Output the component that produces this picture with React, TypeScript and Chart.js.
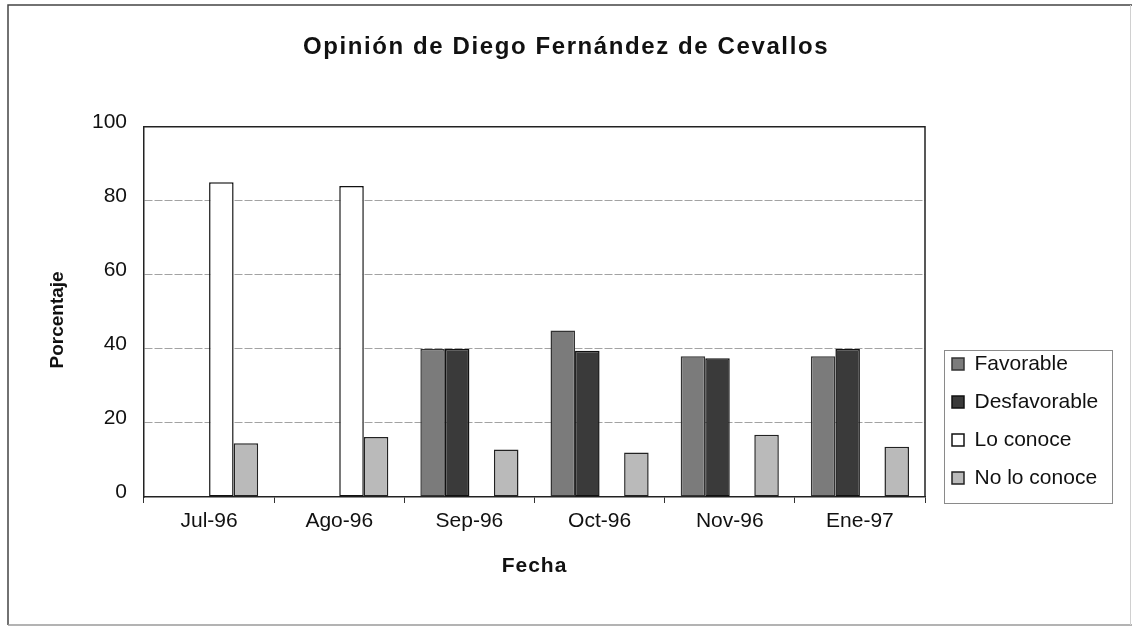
import React, { useEffect, useRef } from 'react';
import { Chart, registerables } from 'chart.js';

Chart.register(...registerables);

// ---- data ----
const categories = ['Jul-96', 'Ago-96', 'Sep-96', 'Oct-96', 'Nov-96', 'Ene-97'];
const favorable = [0, 0, 40, 45, 38, 38];
const desfavorable = [0, 0, 40, 39.5, 37.5, 40];
const loConoce = [85, 84, 0, 0, 0, 0];
const noLoConoce = [14.5, 16.2, 12.8, 12, 16.8, 13.6];
const seriesNames = ['Favorable', 'Desfavorable', 'Lo conoce', 'No lo conoce'];
const yTicks = [0, 20, 40, 60, 80, 100];
const chartTitle = 'Opinión de Diego Fernández de Cevallos';
const xTitle = 'Fecha';
const yTitle = 'Porcentaje';

const FONT = "'Liberation Sans', Arial, Helvetica, sans-serif";

const tweaks = {
  id: 'tweaks',
  beforeLayout(chart: any) {
    const lg = chart.legend;
    if (lg && !lg.__wrapped) {
      const orig = lg.fit.bind(lg);
      lg.fit = () => {
        orig();
        lg.width = 207;
      };
      lg.__wrapped = true;
    }
  },
  afterLayout(chart: any) {
    const lg = chart.legend;
    if (!lg) return;
    const left = chart.chartArea.right + 10;
    const top = 336.5;
    lg.left = left;
    lg.right = chart.width;
    lg.width = lg.right - lg.left;
    lg.top = top;
    lg.bottom = top + 175;
    lg.height = 175;
  },
  beforeDraw(chart: any) {
    const ctx = chart.ctx;
    ctx.save();
    ctx.fillStyle = '#ffffff';
    ctx.fillRect(0, 0, chart.width, chart.height);
    ctx.restore();
    const tb = chart.titleBlock;
    if (tb && !tb.__wrapped) {
      const o = tb.draw.bind(tb);
      tb.draw = (...a: any[]) => {
        ctx.save();
        ctx.letterSpacing = '1.6px';
        o(...a);
        ctx.restore();
      };
      tb.__wrapped = true;
    }
    const ys = chart.scales.y;
    if (ys && !ys.__wrapped) {
      const o2 = ys.drawTitle.bind(ys);
      ys.drawTitle = (...a: any[]) => {
        ctx.save();
        ctx.translate(0, 8);
        o2(...a);
        ctx.restore();
      };
      ys.__wrapped = true;
    }
    const xs = chart.scales.x;
    if (xs && !xs.__wrapped) {
      const o3 = xs.drawTitle.bind(xs);
      xs.drawTitle = (...a: any[]) => {
        ctx.save();
        ctx.letterSpacing = '1px';
        o3(...a);
        ctx.restore();
      };
      xs.__wrapped = true;
    }
  },
  afterDatasetsDraw(chart: any) {
    const { ctx, chartArea: ca } = chart;
    ctx.save();
    ctx.strokeStyle = '#222';
    ctx.lineWidth = 1.5;
    ctx.beginPath();
    ctx.moveTo(ca.left, ca.top);
    ctx.lineTo(ca.right, ca.top);
    ctx.lineTo(ca.right, ca.bottom);
    ctx.stroke();
    ctx.restore();
  },
  afterDraw(chart: any) {
    const ctx = chart.ctx;
    const lg = chart.legend;
    ctx.save();
    if (lg && lg.legendHitBoxes && lg.legendHitBoxes.length) {
      const hb = lg.legendHitBoxes;
      let l = Infinity, r = -Infinity;
      hb.forEach((h: any) => {
        l = Math.min(l, h.left);
        r = Math.max(r, h.left + h.width);
      });
      const t = hb[0].top - 3.5;
      const b = hb[hb.length - 1].top + hb[hb.length - 1].height + 14.5;
      ctx.strokeStyle = '#8a8a8a';
      ctx.lineWidth = 1;
      ctx.strokeRect(Math.round(l - 8) + 0.5, Math.round(t) + 0.5, Math.round(r + 14 - (l - 8)), Math.round(b - t));
    }
    // outer frame
    ctx.lineWidth = 1.5;
    ctx.strokeStyle = '#444';
    ctx.beginPath();
    ctx.moveTo(8, 625);
    ctx.lineTo(8, 5);
    ctx.lineTo(1132, 5);
    ctx.stroke();
    ctx.strokeStyle = '#9a9a9a';
    ctx.beginPath();
    ctx.moveTo(8, 625);
    ctx.lineTo(1132, 625);
    ctx.stroke();
    ctx.strokeStyle = '#d0d0d0';
    ctx.lineWidth = 1;
    ctx.beginPath();
    ctx.moveTo(1130.5, 5);
    ctx.lineTo(1130.5, 625);
    ctx.stroke();
    ctx.restore();
  },
};

export default function App() {
  const ref = useRef<HTMLCanvasElement | null>(null);

  useEffect(() => {
    if (!ref.current) return;
    const mk = (label: string, data: number[], bg: string, bc: string) => ({
      label,
      data,
      backgroundColor: bg,
      borderColor: bc,
      borderWidth: 1.5,
      borderSkipped: false,
      categoryPercentage: 0.754,
      barPercentage: 1,
    });
    const chart = new Chart(ref.current, {
      type: 'bar',
      data: {
        labels: categories,
        datasets: [
          mk(seriesNames[0], favorable, '#7b7b7b', '#333333'),
          mk(seriesNames[1], desfavorable, '#3a3a3a', '#111111'),
          mk(seriesNames[2], loConoce, '#ffffff', '#111111'),
          mk(seriesNames[3], noLoConoce, '#bababa', '#222222'),
        ],
      },
      options: {
        animation: false,
        responsive: false,
        maintainAspectRatio: false,
        layout: { padding: 0 },
        plugins: {
          tooltip: { enabled: false },
          title: {
            display: true,
            text: chartTitle,
            color: '#111',
            font: { family: FONT, size: 24, weight: 'bold' },
            padding: { top: 33, bottom: 65 },
          },
          legend: {
            display: true,
            position: 'right',
            align: 'start',
            fullSize: false,
            labels: {
              color: '#111',
              font: { family: FONT, size: 21 },
              boxWidth: 12,
              boxHeight: 12,
              padding: 17,
            },
          },
        },
        scales: {
          x: {
            type: 'category',
            afterFit: (s: any) => {
              s.height = 129;
            },
            grid: {
              display: true,
              drawOnChartArea: false,
              drawTicks: true,
              tickLength: 6,
              color: '#333',
              offset: true,
            },
            border: { display: true, color: '#222', width: 1.5 },
            ticks: {
              color: '#111',
              font: { family: FONT, size: 21 },
              padding: 6,
              maxRotation: 0,
              autoSkip: false,
            },
            title: {
              display: true,
              text: xTitle,
              color: '#111',
              font: { family: FONT, size: 21, weight: 'bold' },
              padding: { top: 0, bottom: 47.4 },
            },
          },
          y: {
            min: 0,
            max: 100,
            afterFit: (s: any) => {
              s.width = 144;
            },
            afterBuildTicks: (s: any) => {
              s.ticks = yTicks.map((v) => ({ value: v }));
            },
            grid: {
              drawTicks: false,
              color: (c: any) =>
                c.tick && (c.tick.value === 0 || c.tick.value === 100) ? 'rgba(0,0,0,0)' : '#a3a3a3',
              lineWidth: 1,
            },
            border: { display: true, color: '#222', width: 1.5, dash: [8, 2] },
            ticks: {
              color: '#111',
              font: { family: FONT, size: 21 },
              padding: 17,
              labelOffset: -5,
            },
            title: {
              display: true,
              text: yTitle,
              color: '#111',
              font: { family: FONT, size: 19, weight: 'bold' },
              padding: { top: 46.6, bottom: 0 },
            },
          },
        },
      },
      plugins: [tweaks],
    } as any);
    return () => chart.destroy();
  }, []);

  return (
    <div style={{ position: 'absolute', left: 0, top: 0, width: 1132, height: 626, background: '#fff' }}>
      <canvas ref={ref} width={1132} height={626} style={{ display: 'block', width: 1132, height: 626 }} />
    </div>
  );
}
